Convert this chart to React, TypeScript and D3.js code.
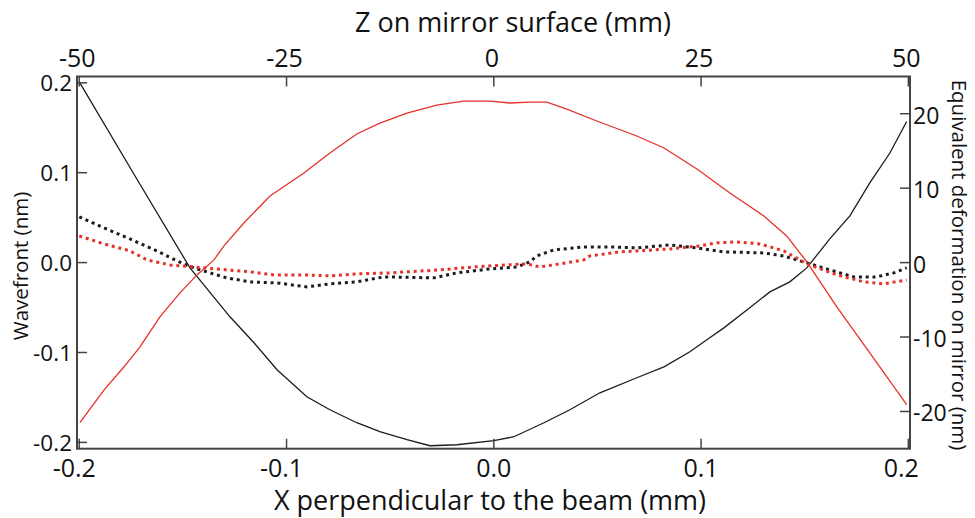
import React from 'react';
import * as d3 from 'd3';

// Tick values
const xTicks = [-0.2, -0.1, 0.0, 0.1, 0.2];
const zTicks = [-50, -25, 0, 25, 50];
const wavefrontTicks = [-0.2, -0.1, 0.0, 0.1, 0.2];
const deformTicks = [-20, -10, 0, 10, 20];

// Black solid curve (wavefront, nm)
const blackSolidX = [-0.2, -0.1731, -0.1466, -0.1273, -0.1157, -0.1046, -0.0902, -0.0791, -0.0661, -0.055, -0.0419, -0.0308, -0.0178, 0.0, 0.0097, 0.0242, 0.0367, 0.0512, 0.069, 0.0821, 0.0946, 0.1028, 0.111, 0.1221, 0.1332, 0.1428, 0.151, 0.1621, 0.1718, 0.1814, 0.1911, 0.1992];
const blackSolidW = [0.201, 0.0963, -0.0059, -0.0603, -0.0892, -0.1192, -0.1492, -0.1637, -0.1781, -0.1881, -0.197, -0.2037, -0.2026, -0.1981, -0.1937, -0.1781, -0.1637, -0.1448, -0.1281, -0.1159, -0.0992, -0.0859, -0.0726, -0.0526, -0.0326, -0.0214, -0.0059, 0.0264, 0.0519, 0.0886, 0.1219, 0.157];

// Red solid curve (wavefront, nm)
const redSolidX = [-0.1997, -0.1881, -0.1784, -0.1707, -0.1611, -0.1514, -0.1432, -0.135, -0.1302, -0.1206, -0.108, -0.0916, -0.0791, -0.0661, -0.055, -0.0419, -0.0275, -0.0145, -0.0019, 0.0077, 0.0174, 0.0256, 0.0352, 0.0497, 0.069, 0.0821, 0.098, 0.1139, 0.1303, 0.1413, 0.151, 0.1655, 0.1814, 0.1992];
const redSolidW = [-0.1781, -0.1419, -0.1159, -0.0937, -0.0603, -0.0337, -0.0137, 0.003, 0.0186, 0.0441, 0.0741, 0.0997, 0.1219, 0.143, 0.1552, 0.1663, 0.1752, 0.1797, 0.1797, 0.1775, 0.1786, 0.1786, 0.1708, 0.1575, 0.1408, 0.1275, 0.1041, 0.0775, 0.0519, 0.0297, 0.0008, -0.0492, -0.1003, -0.1581];

// Black dotted curve (deformation, nm)
const blackDotX = [-0.2, -0.1881, -0.1755, -0.1625, -0.1529, -0.1447, -0.137, -0.1288, -0.1177, -0.1046, -0.0902, -0.0791, -0.0661, -0.053, -0.0289, -0.0178, -0.0019, 0.0111, 0.0174, 0.0207, 0.0289, 0.0434, 0.056, 0.069, 0.0849, 0.098, 0.111, 0.1303, 0.1399, 0.151, 0.1621, 0.1737, 0.1848, 0.193, 0.1992];
const blackDotD = [6.14, 4.66, 3.18, 1.57, 0.23, -0.71, -1.38, -2.05, -2.59, -2.73, -3.26, -2.86, -2.59, -1.92, -2.05, -1.38, -0.85, -0.58, 0.1, 0.89, 1.7, 2.1, 2.1, 1.97, 2.38, 1.97, 1.44, 1.3, 0.89, -0.04, -0.98, -1.92, -1.92, -1.38, -0.71];

// Red dotted curve (deformation, nm)
const redDotX = [-0.2, -0.1881, -0.1755, -0.1673, -0.1563, -0.1447, -0.1288, -0.1177, -0.1061, -0.0916, -0.0791, -0.0661, -0.0502, -0.0261, -0.0097, 0.0063, 0.0159, 0.0222, 0.0304, 0.0434, 0.0463, 0.0608, 0.069, 0.0849, 0.0994, 0.1076, 0.1172, 0.1283, 0.1399, 0.151, 0.1655, 0.1785, 0.1882, 0.1992];
const redDotD = [3.58, 2.51, 1.57, 0.36, -0.31, -0.58, -0.98, -1.24, -1.65, -1.65, -1.79, -1.52, -1.38, -0.98, -0.58, -0.31, -0.17, -0.58, -0.24, 0.36, 0.89, 1.44, 1.57, 1.84, 2.25, 2.65, 2.78, 2.51, 1.57, -0.17, -1.65, -2.59, -2.86, -2.32];

const FONT = '"Open Sans", sans-serif';
const AXIS = '#444444';
const RED = '#e4322a';
const BLACK = '#1c1c1c';

const fmt1 = (v: number) => v.toFixed(1);

export default function App() {
  const W = 975, H = 518;
  const left = 77, right = 910, top = 76.5, bottom = 448.7;

  const x = d3.scaleLinear().domain([-0.2011, 0.2008]).range([left, right]);
  const z = d3.scaleLinear().domain([-0.2011 * 250, 0.2008 * 250]).range([left, right]);
  const yL = d3.scaleLinear().domain([-0.207, 0.207]).range([bottom, top]);
  const yR = d3.scaleLinear().domain([-25, 25]).range([bottom, top]);

  const lineL = (xs: number[], ys: number[]) =>
    d3.line<number>().x((_, i) => x(xs[i])).y((_, i) => yL(ys[i]))(xs) || '';
  const lineR = (xs: number[], ys: number[]) =>
    d3.line<number>().x((_, i) => x(xs[i])).y((_, i) => yR(ys[i]))(xs) || '';

  const tickLen = 10;

  return (
    <svg width={W} height={H} style={{ position: 'absolute', left: 0, top: 0, background: '#fff' }} fontFamily={FONT}>
      <rect x={0} y={0} width={W} height={H} fill="#fff" />
      {/* Curves */}
      <path d={lineL(blackSolidX, blackSolidW)} fill="none" stroke={BLACK} strokeWidth={1.3} />
      <path d={lineL(redSolidX, redSolidW)} fill="none" stroke={RED} strokeWidth={1.3} />
      <path d={lineR(blackDotX, blackDotD)} fill="none" stroke={BLACK} strokeWidth={3} strokeDasharray="3 3.8" />
      <path d={lineR(redDotX, redDotD)} fill="none" stroke={RED} strokeWidth={3} strokeDasharray="3 3.8" />

      {/* Frame */}
      <rect x={left} y={top} width={right - left} height={bottom - top} fill="none" stroke={AXIS} strokeWidth={2} />

      {/* Bottom axis */}
      {xTicks.map((v, i) => (
        <g key={'bx' + i}>
          <line x1={x(v)} x2={x(v)} y1={bottom} y2={bottom - tickLen} stroke={AXIS} strokeWidth={1.5} />
          <text x={x(v) + (v < 0 ? -5 : 0) + (i === xTicks.length - 1 ? -7 : 0)} y={477} textAnchor="middle" fontSize={25} fill="#111">
            {fmt1(v)}
          </text>
        </g>
      ))}
      {/* Top axis */}
      {zTicks.map((v, i) => (
        <g key={'tz' + i}>
          <line x1={z(v)} x2={z(v)} y1={top} y2={top + tickLen} stroke={AXIS} strokeWidth={1.5} />
          <text x={z(v) - 2} y={67} textAnchor="middle" fontSize={25} fill="#111">
            {String(v)}
          </text>
        </g>
      ))}
      {/* Left axis */}
      {wavefrontTicks.map((v, i) => (
        <g key={'ly' + i}>
          <line x1={left} x2={left + tickLen} y1={yL(v)} y2={yL(v)} stroke={AXIS} strokeWidth={1.5} />
          <text x={72} y={yL(v)} textAnchor="end" dominantBaseline="central" fontSize={22.5} fill="#111">
            {fmt1(v)}
          </text>
        </g>
      ))}
      {/* Right axis */}
      {deformTicks.map((v, i) => (
        <g key={'ry' + i}>
          <line x1={right} x2={right - tickLen} y1={yR(v)} y2={yR(v)} stroke={AXIS} strokeWidth={1.5} />
          <text x={913} y={yR(v) + 1} textAnchor="start" dominantBaseline="central" fontSize={23} fill="#111">
            {String(v)}
          </text>
        </g>
      ))}

      {/* Titles */}
      <text x={513} y={32} textAnchor="middle" fontSize={27} fill="#111">Z on mirror surface (mm)</text>
      <text x={490} y={510} textAnchor="middle" fontSize={27} fill="#111">X perpendicular to the beam (mm)</text>
      <text transform="translate(28,266) rotate(-90)" textAnchor="middle" fontSize={20.5} fill="#111">Wavefront (nm)</text>
      <text transform="translate(952,265) rotate(90)" textAnchor="middle" fontSize={20.5} fill="#111">Equivalent deformation on mirror (nm)</text>
    </svg>
  );
}
